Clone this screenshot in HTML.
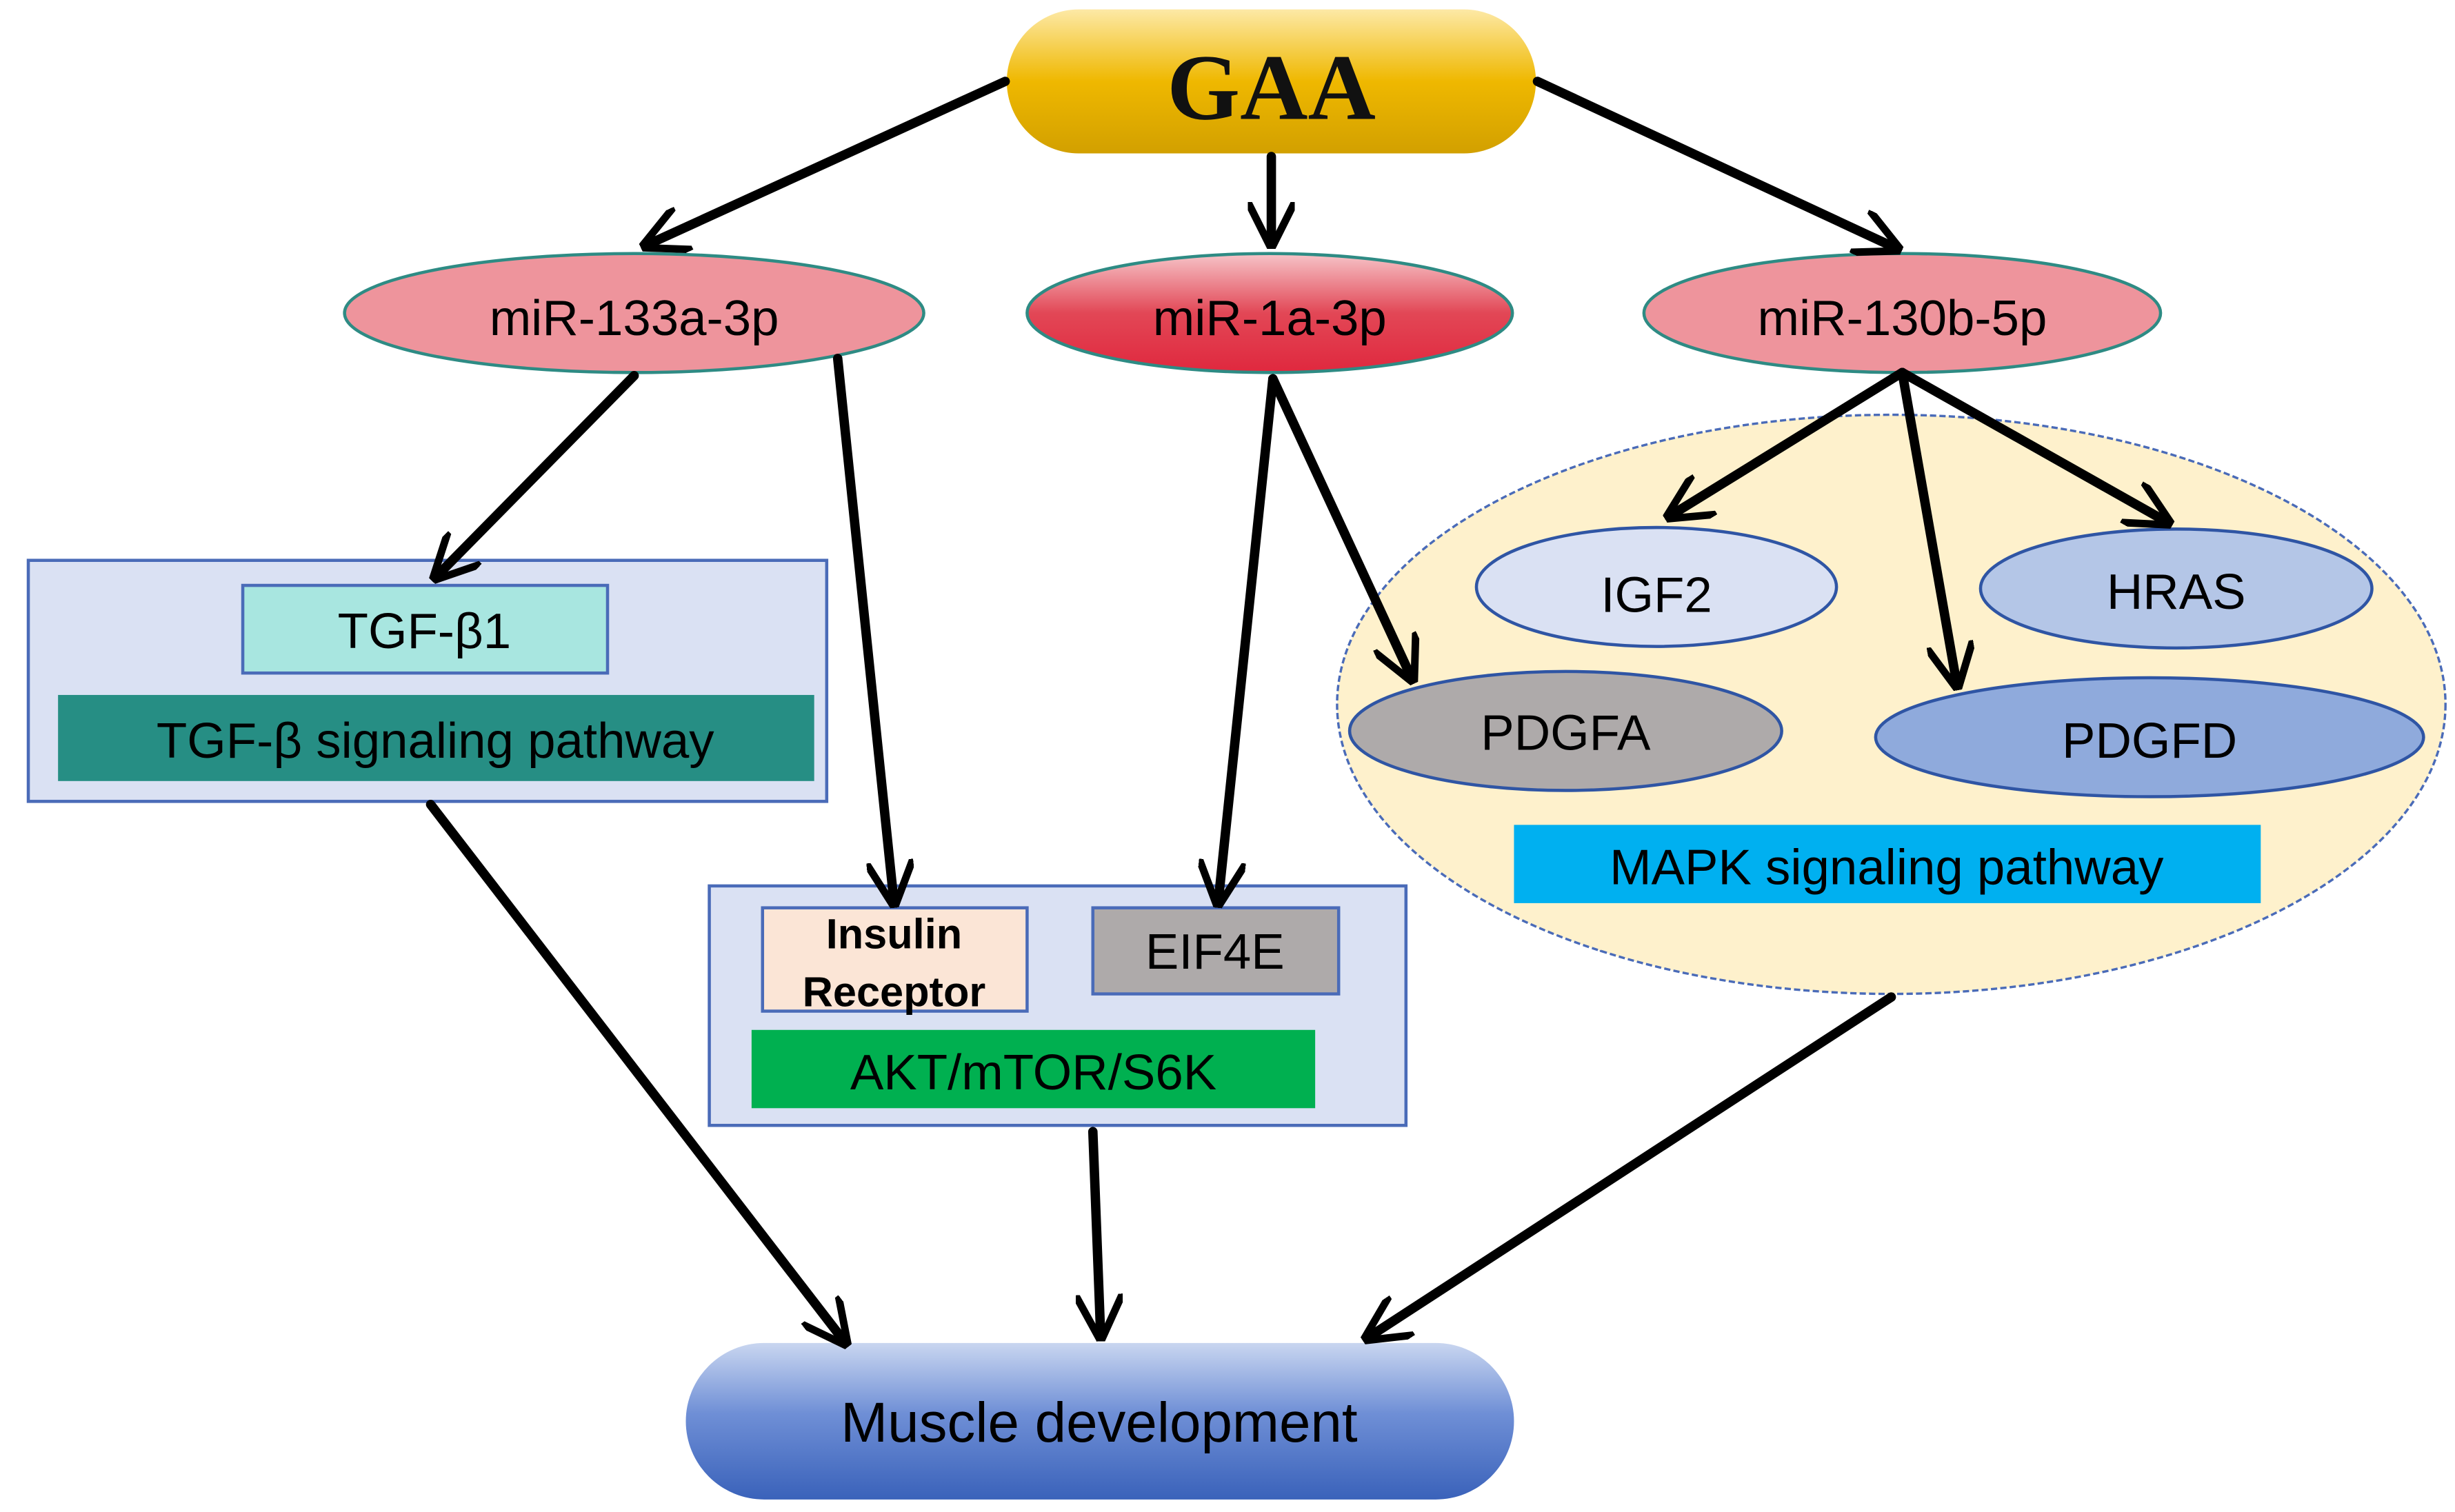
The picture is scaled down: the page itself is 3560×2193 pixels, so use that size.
<!DOCTYPE html>
<html><head><style>html,body{margin:0;padding:0;background:#fff}svg{display:block}</style></head>
<body>
<svg width="3560" height="2193" viewBox="0 0 1568 966" xmlns="http://www.w3.org/2000/svg" font-family="Liberation Sans, sans-serif">
<defs>
<linearGradient id="gold" x1="0" y1="0" x2="0" y2="1"><stop offset="0" stop-color="#fde9a6"/><stop offset="0.5" stop-color="#efb800"/><stop offset="1" stop-color="#d2a000"/></linearGradient>
<linearGradient id="red" x1="0" y1="0" x2="0" y2="1"><stop offset="0" stop-color="#f6c4c8"/><stop offset="0.5" stop-color="#e24756"/><stop offset="1" stop-color="#e0283e"/></linearGradient>
<linearGradient id="blue" x1="0" y1="0" x2="0" y2="1"><stop offset="0" stop-color="#c9d6f0"/><stop offset="0.45" stop-color="#6f8fd6"/><stop offset="1" stop-color="#3a62ba"/></linearGradient>
<marker id="ah" viewBox="0 0 10 10" refX="9" refY="5" markerWidth="5" markerHeight="5" orient="auto" markerUnits="strokeWidth"><path d="M0,0 L10,5 L0,10" fill="none" stroke="#000" stroke-width="1.6"/></marker>
</defs>
<!-- MAPK ellipse -->
<ellipse cx="1208" cy="450" rx="354" ry="185" fill="#fef1cc" stroke="#4a6bb8" stroke-width="1.5" stroke-dasharray="4,2"/>
<!-- GAA -->
<rect x="643" y="6" width="338" height="92" rx="46" fill="url(#gold)"/>
<text x="812" y="76" text-anchor="middle" font-family="Liberation Serif, serif" font-weight="bold" font-size="60" fill="#111">GAA</text>
<!-- miRs -->
<ellipse cx="405" cy="200" rx="185" ry="38" fill="#ee949c" stroke="#2e8b84" stroke-width="2"/>
<text x="405" y="214" text-anchor="middle" font-size="32">miR-133a-3p</text>
<ellipse cx="811" cy="200" rx="155" ry="38" fill="url(#red)" stroke="#2e8b84" stroke-width="2"/>
<text x="811" y="214" text-anchor="middle" font-size="32">miR-1a-3p</text>
<ellipse cx="1215" cy="200" rx="165" ry="38" fill="#ee949c" stroke="#2e8b84" stroke-width="2"/>
<text x="1215" y="214" text-anchor="middle" font-size="32">miR-130b-5p</text>
<!-- left box -->
<rect x="18" y="358" width="510" height="154" fill="#dae1f3" stroke="#4a6bb8" stroke-width="2"/>
<rect x="155" y="374" width="233" height="56" fill="#a8e6e0" stroke="#4a6bb8" stroke-width="2"/>
<text x="271" y="414" text-anchor="middle" font-size="32">TGF-β1</text>
<rect x="37" y="444" width="483" height="55" fill="#268e84"/>
<text x="278" y="484" text-anchor="middle" font-size="32">TGF-β signaling pathway</text>
<!-- middle box -->
<rect x="453" y="566" width="445" height="153" fill="#dae1f3" stroke="#4a6bb8" stroke-width="2"/>
<rect x="487" y="580" width="169" height="66" fill="#fbe5d6" stroke="#4a6bb8" stroke-width="2"/>
<text x="571" y="606" text-anchor="middle" font-size="27" font-weight="bold">Insulin</text>
<text x="571" y="643" text-anchor="middle" font-size="27" font-weight="bold">Receptor</text>
<rect x="698" y="580" width="157" height="55" fill="#aeaaaa" stroke="#4a6bb8" stroke-width="2"/>
<text x="776" y="619" text-anchor="middle" font-size="32">EIF4E</text>
<rect x="480" y="658" width="360" height="50" fill="#00b050"/>
<text x="660" y="696" text-anchor="middle" font-size="32">AKT/mTOR/S6K</text>
<!-- MAPK nodes -->
<ellipse cx="1058" cy="375" rx="115" ry="38" fill="#dae1f3" stroke="#2f55a4" stroke-width="2"/>
<text x="1058" y="391" text-anchor="middle" font-size="32">IGF2</text>
<ellipse cx="1390" cy="376" rx="125" ry="38" fill="#b4c6e7" stroke="#2f55a4" stroke-width="2"/>
<text x="1390" y="389" text-anchor="middle" font-size="32">HRAS</text>
<ellipse cx="1000" cy="467" rx="138" ry="38" fill="#aeaaaa" stroke="#2f55a4" stroke-width="2"/>
<text x="1000" y="479" text-anchor="middle" font-size="32">PDGFA</text>
<ellipse cx="1373" cy="471" rx="175" ry="38" fill="#8faadc" stroke="#2f55a4" stroke-width="2"/>
<text x="1373" y="484" text-anchor="middle" font-size="32">PDGFD</text>
<rect x="967" y="527" width="477" height="50" fill="#00b0f0"/>
<text x="1205" y="565" text-anchor="middle" font-size="32">MAPK signaling pathway</text>
<!-- Muscle -->
<rect x="438" y="858" width="529" height="100" rx="50" fill="url(#blue)"/>
<text x="702" y="921" text-anchor="middle" font-size="36">Muscle development</text>
<!-- arrows -->
<g stroke="#000" stroke-width="6" fill="none" marker-end="url(#ah)" stroke-linecap="round">
<line x1="642" y1="52" x2="412" y2="157"/>
<line x1="812" y1="100" x2="812" y2="156"/>
<line x1="982" y1="52" x2="1212" y2="159"/>
<line x1="405" y1="240" x2="278" y2="369"/>
<line x1="535" y1="229" x2="571" y2="577"/>
<line x1="813" y1="242" x2="778" y2="577"/>
<line x1="813" y1="242" x2="902" y2="434"/>
<line x1="1215" y1="238" x2="1066" y2="330"/>
<line x1="1215" y1="238" x2="1250" y2="438"/>
<line x1="1215" y1="238" x2="1385" y2="334"/>
<line x1="275" y1="514" x2="540" y2="858"/>
<line x1="698" y1="723" x2="703" y2="854"/>
<line x1="1208" y1="637" x2="873" y2="855"/>
</g>
</svg>
</body></html>
